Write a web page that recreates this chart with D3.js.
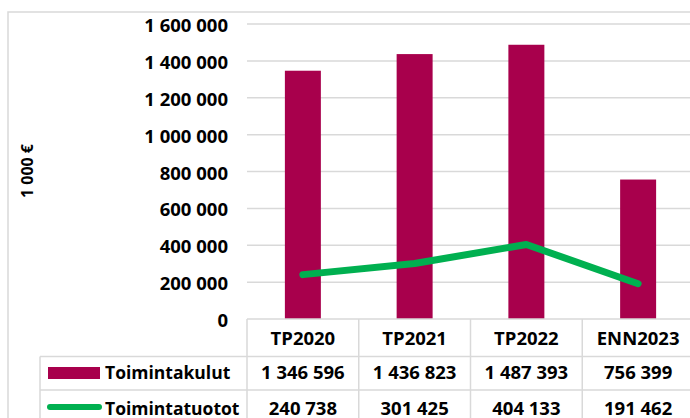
<!DOCTYPE html>
<html>
<head>
<meta charset="utf-8">
<script src="https://cdn.jsdelivr.net/npm/d3@7"></script>
<style>
  html, body { margin: 0; padding: 0; background: #fff; overflow: hidden; }
  svg { display: block; font-family: "Open Sans", "Noto Sans", sans-serif; font-weight: bold; }
</style>
</head>
<body>
<svg id="chart" width="690" height="418"></svg>
<script>

// chart data
var categories = ['TP2020', 'TP2021', 'TP2022', 'ENN2023'];
var kulut      = [1346596, 1436823, 1487393, 756399];   // Toimintakulut (bars)
var tuotot     = [240738, 301425, 404133, 191462];      // Toimintatuotot (line)
var seriesNames = ['Toimintakulut', 'Toimintatuotot'];
var yTicks     = [0, 200000, 400000, 600000, 800000, 1000000, 1200000, 1400000, 1600000];
var yTitle     = '1 000 €';

var barColor = '#a8004c',
    lineColor = '#00b050',
    gridColor = '#d9d9d9';

var fontSize = '18.5px';

var svg = d3.select('#chart');

// plot area, the right edge runs past the window like in the original
// (note: "top" is reserved on window, so plot* names are used)
var plotLeft = 247, plotRight = 694, plotTop = 24, plotBottom = 319;
var rowTop = [319, 356.5, 390];

var fi = d3.formatLocale({ decimal: ',', thousands: ' ', grouping: [3], currency: ['', ' €'] });
var fmt = fi.format(',d');

var x = d3.scaleBand()
  .domain(categories)
  .range([plotLeft, plotRight])
  .paddingInner(0.678)
  .paddingOuter(0.339);

var y = d3.scaleLinear()
  .domain([0, 1600000])
  .range([plotBottom, plotTop]);

// outer chart frame
svg.append('rect')
  .attr('x', 8).attr('y', 12)
  .attr('width', 700).attr('height', 420)
  .attr('fill', 'none')
  .attr('stroke', gridColor)
  .attr('stroke-width', 1.5);

// gridlines
svg.append('g')
  .selectAll('line')
  .data(yTicks.filter(function(d) { return d > 0; }))
  .join('line')
  .attr('x1', plotLeft).attr('x2', plotRight)
  .attr('y1', function(d) { return y(d); })
  .attr('y2', function(d) { return y(d); })
  .attr('stroke', gridColor)
  .attr('stroke-width', 1.5);

// y labels
var yAxis = svg.append('g')
  .attr('transform', 'translate(' + plotLeft + ',0)')
  .call(d3.axisLeft(y).tickValues(yTicks).tickSize(0).tickPadding(19).tickFormat(fmt));
yAxis.select('.domain').remove();
yAxis.selectAll('text')
  .attr('dy', '0.41em')
  .attr('fill', '#000')
  .style('font-family', '"Open Sans", sans-serif')
  .style('font-weight', 'bold')
  .style('font-size', fontSize);

svg.append('text')
  .attr('transform', 'translate(33,171) rotate(-90)')
  .attr('text-anchor', 'middle')
  .style('font-size', '16px')
  .text(yTitle);

// bars
svg.append('g')
  .selectAll('rect')
  .data(kulut)
  .join('rect')
  .attr('x', function(d, i) { return x(categories[i]); })
  .attr('y', function(d) { return y(d); })
  .attr('width', x.bandwidth())
  .attr('height', function(d) { return y(0) - y(d); })
  .attr('fill', barColor);

// line
var line = d3.line()
  .x(function(d, i) { return x(categories[i]) + x.bandwidth() / 2; })
  .y(function(d) { return y(d); });

svg.append('path')
  .datum(tuotot)
  .attr('d', line)
  .attr('fill', 'none')
  .attr('stroke', lineColor)
  .attr('stroke-width', 7)
  .attr('stroke-linecap', 'round')
  .attr('stroke-linejoin', 'round');

/* ======================================
 * Data table under the plot
 */
var table = svg.append('g');

function hline(yy, x1) {
  table.append('line')
    .attr('x1', x1).attr('x2', plotRight)
    .attr('y1', yy).attr('y2', yy)
    .attr('stroke', gridColor).attr('stroke-width', 1.5);
}
function vline(xx, y1) {
  table.append('line')
    .attr('x1', xx).attr('x2', xx)
    .attr('y1', y1).attr('y2', 430)
    .attr('stroke', gridColor).attr('stroke-width', 1.5);
}

hline(rowTop[0], plotLeft);
hline(rowTop[1], 40);
hline(rowTop[2], 40);
vline(40, rowTop[1]);
categories.forEach(function(c) { vline(x(c) - x.step() * x.paddingOuter(), rowTop[0]); });

var colCenter = function(c) { return x(c) + x.bandwidth() / 2; };

table.selectAll('text.head')
  .data(categories)
  .join('text')
  .attr('class', 'head')
  .attr('x', colCenter)
  .attr('y', 345)
  .attr('text-anchor', 'middle')
  .style('font-size', fontSize)
  .text(function(d) { return d; });

[kulut, tuotot].forEach(function(values, r) {
  var base = r === 0 ? 379 : 415;
  table.selectAll('text.row' + r)
    .data(values)
    .join('text')
    .attr('class', 'row' + r)
    .attr('x', function(d, i) { return colCenter(categories[i]); })
    .attr('y', base)
    .attr('text-anchor', 'middle')
    .style('font-size', fontSize)
    .text(fmt);

  // series names are a touch narrower in the original
  table.append('text')
    .attr('x', 105)
    .attr('y', base)
    .style('font-size', '17.5px')
    .text(seriesNames[r]);
});

// legend keys
table.append('rect')
  .attr('x', 48).attr('y', 367)
  .attr('width', 52).attr('height', 12)
  .attr('fill', barColor);

table.append('line')
  .attr('x1', 50).attr('x2', 99)
  .attr('y1', 407).attr('y2', 407)
  .attr('stroke', lineColor)
  .attr('stroke-width', 6)
  .attr('stroke-linecap', 'round');

</script>
</body>
</html>
